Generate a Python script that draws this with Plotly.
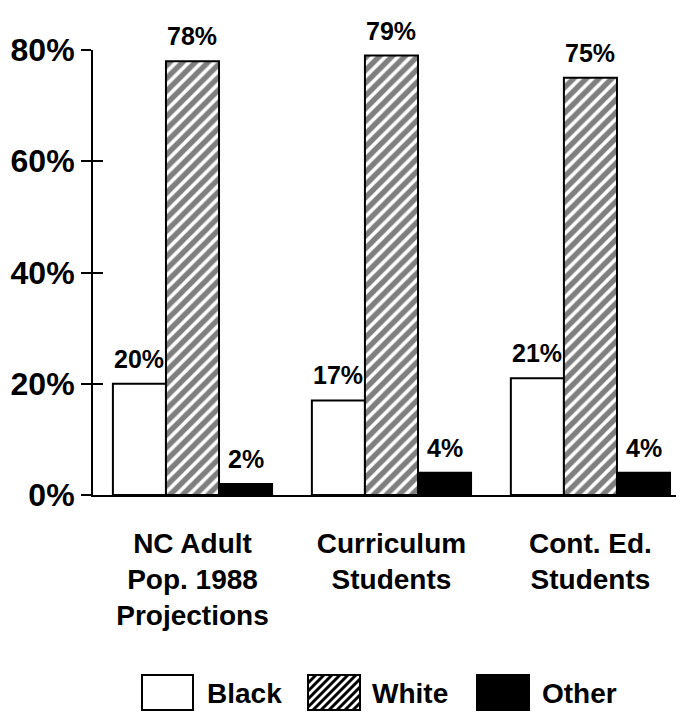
import plotly.graph_objects as go

# ---- data ----
categories = ["NC Adult<br>Pop. 1988<br>Projections", "Curriculum<br>Students", "Cont. Ed.<br>Students"]
series_names = ["Black", "White", "Other"]
black_vals = [20, 17, 21]
white_vals = [78, 79, 75]
other_vals = [2, 4, 4]
y_ticks = [0, 20, 40, 60, 80]
y_tick_labels = ["0%", "20%", "40%", "60%", "80%"]

FONT = "Liberation Sans"
WEIGHT = "bold"
W, H = 680, 714
L, R, T, B = 93, 4, 50, 219
PW, PH = W - L - R, H - T - B
BARGAP = 0.2


def px_x(px):
    return (px - L) / PW


def px_y(py):
    return (H - B - py) / PH


hatch = dict(shape="/", fgcolor="black", bgcolor="white", size=9, solidity=0.6)
outline = dict(color="black", width=2)
label_font = dict(family=FONT, size=25, color="black", weight=WEIGHT)

series = [
    ("Black", black_vals, dict(color="white", line=outline)),
    ("White", white_vals, dict(color="white", line=outline, pattern=hatch)),
    ("Other", other_vals, dict(color="black", line=outline)),
]

fig = go.Figure()
annotations = []
bw = (1 - BARGAP) / len(series)
for j, (name, vals, marker) in enumerate(series):
    fig.add_bar(x=categories, y=vals, name=name, marker=marker, showlegend=False)
    for i, v in enumerate(vals):
        annotations.append(dict(
            x=i + (j - (len(series) - 1) / 2) * bw, y=v, xref="x", yref="y",
            text=f"{v}%", showarrow=False, yanchor="middle", yshift=25,
            font=label_font,
        ))

# invisible trace so the inside-tick overlay axis is rendered
fig.add_scatter(x=[], y=[], yaxis="y2", showlegend=False, hoverinfo="skip")

# ---- custom legend (swatches drawn as layout shapes) ----
shapes = []
boxes = [(142, 193, "Black", 205), (308, 360, "White", 370), (477, 529, "Other", 540)]
top, bot = 675, 710
for (x0, x1, name, tx) in boxes:
    fill = "black" if name == "Other" else "white"
    shapes.append(dict(type="rect", xref="paper", yref="paper",
                       x0=px_x(x0), x1=px_x(x1), y0=px_y(bot), y1=px_y(top),
                       line=dict(color="black", width=2), fillcolor=fill, layer="above"))
    if name == "White":
        step = 8
        k = x0 + top
        segs = []
        while k <= x1 + bot:
            sx = max(x0, k - bot)
            ex = min(x1, k - top)
            if ex > sx:
                segs.append(f"M{px_x(sx)},{px_y(k - sx)} L{px_x(ex)},{px_y(k - ex)}")
            k += step
        shapes.append(dict(type="path", xref="paper", yref="paper", path=" ".join(segs),
                           line=dict(color="black", width=3), layer="above"))
    annotations.append(dict(xref="paper", yref="paper", x=px_x(tx), y=px_y(693),
                            xanchor="left", yanchor="middle", showarrow=False, text=name,
                            font=dict(family=FONT, size=28, color="black", weight=WEIGHT)))

fig.update_layout(
    width=W, height=H,
    margin=dict(l=L, r=R, t=T, b=B, pad=0),
    paper_bgcolor="white", plot_bgcolor="white",
    barmode="group", bargap=BARGAP, bargroupgap=0,
    font=dict(family=FONT, color="black"),
    xaxis=dict(
        type="category", range=[-0.5, 2.43],
        showline=True, linecolor="black", linewidth=2,
        ticks="", showgrid=False, zeroline=False,
        tickfont=dict(family=FONT, size=28, color="black", weight=WEIGHT),
        ticklabelstandoff=22,
    ),
    yaxis=dict(
        range=[0, 80], tickvals=y_ticks, ticktext=y_tick_labels,
        showline=True, linecolor="black", linewidth=2,
        ticks="outside", ticklen=10, tickwidth=2, tickcolor="black",
        showgrid=False, zeroline=False,
        tickfont=dict(family=FONT, size=32, color="black", weight=WEIGHT),
    ),
    yaxis2=dict(
        overlaying="y", anchor="x", side="left", range=[0, 80], tickvals=y_ticks,
        ticks="inside", ticklen=10, tickwidth=2, tickcolor="black",
        showticklabels=False, showgrid=False, zeroline=False, showline=False,
    ),
    shapes=shapes,
    annotations=annotations,
    showlegend=False,
)

fig.write_html("out.html")
